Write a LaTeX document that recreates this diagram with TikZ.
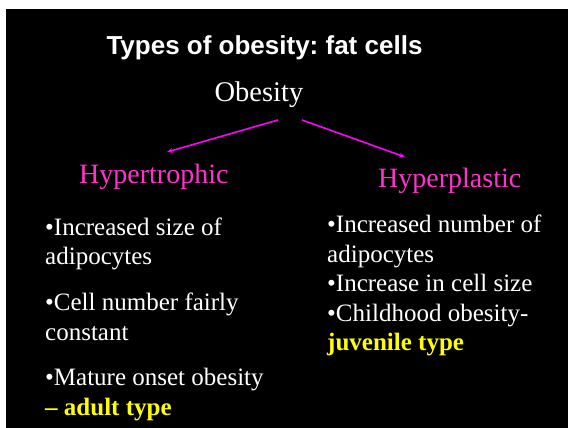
\documentclass[tikz,border=0pt]{standalone}
\usepackage{fontspec}
\setmainfont{Liberation Serif}
\newfontfamily\titlefont{Liberation Sans}
\usetikzlibrary{arrows.meta,positioning}
\definecolor{headpink}{HTML}{FF33CC}
\definecolor{arrowpink}{HTML}{FF00FF}
\definecolor{tagyellow}{HTML}{FFFF00}
\frenchspacing

\begin{document}
\begin{tikzpicture}[x=1pt,y=-1pt,>=Stealth]
\tikzset{title/.style={font=\titlefont\bfseries\fontsize{26}{30}\selectfont,text=white,inner sep=0pt},
  root/.style={font=\fontsize{28.5}{32}\selectfont,text=white,inner sep=0pt},
  kind/.style={font=\fontsize{28}{32}\selectfont,text=headpink,inner sep=0pt},
  item/.style={font=\fontsize{25}{29.5}\selectfont,text=white,align=left,inner sep=0pt,anchor=base west},
  branch/.style={draw=arrowpink,line width=1.6pt,-{Stealth[length=6pt,width=5pt]}}}
\fill[white] (0,0) rectangle (568,428);
\fill[black] (6,9) rectangle (568,428);
\node[title,anchor=base] (head) at (264.5,55) {Types of obesity: fat cells};
\node[root,anchor=base] (obesity) at (259,102) {Obesity};
\node[kind,anchor=base west] (hypertro) at (79,183) {Hypertrophic};
\node[kind,anchor=base west] (hyperpla) at (378,187) {Hyperplastic};
% left column (placed by last baseline)
\node[item] (size) at (45,264.5) {•Increased size of\\adipocytes};
\node[item] (count) at (45,340) {•Cell number fairly\\constant};
\node[item] (adult) at (45,415) {•Mature onset obesity\\{\bfseries\color{tagyellow}– adult type}};
% right column
\node[item] (number) at (327,350.7) {•Increased number of\\adipocytes\\•Increase in cell size\\•Childhood obesity-\\{\bfseries\color{tagyellow}juvenile type}};
% arrows
\coordinate (fork l) at (278,120);
\coordinate (fork r) at (302,120);
\coordinate (tip l) at (167,152);
\coordinate (tip r) at (405,157);
\draw[branch] (fork l) -- (tip l);
\draw[branch] (fork r) -- (tip r);
\end{tikzpicture}
\end{document}
